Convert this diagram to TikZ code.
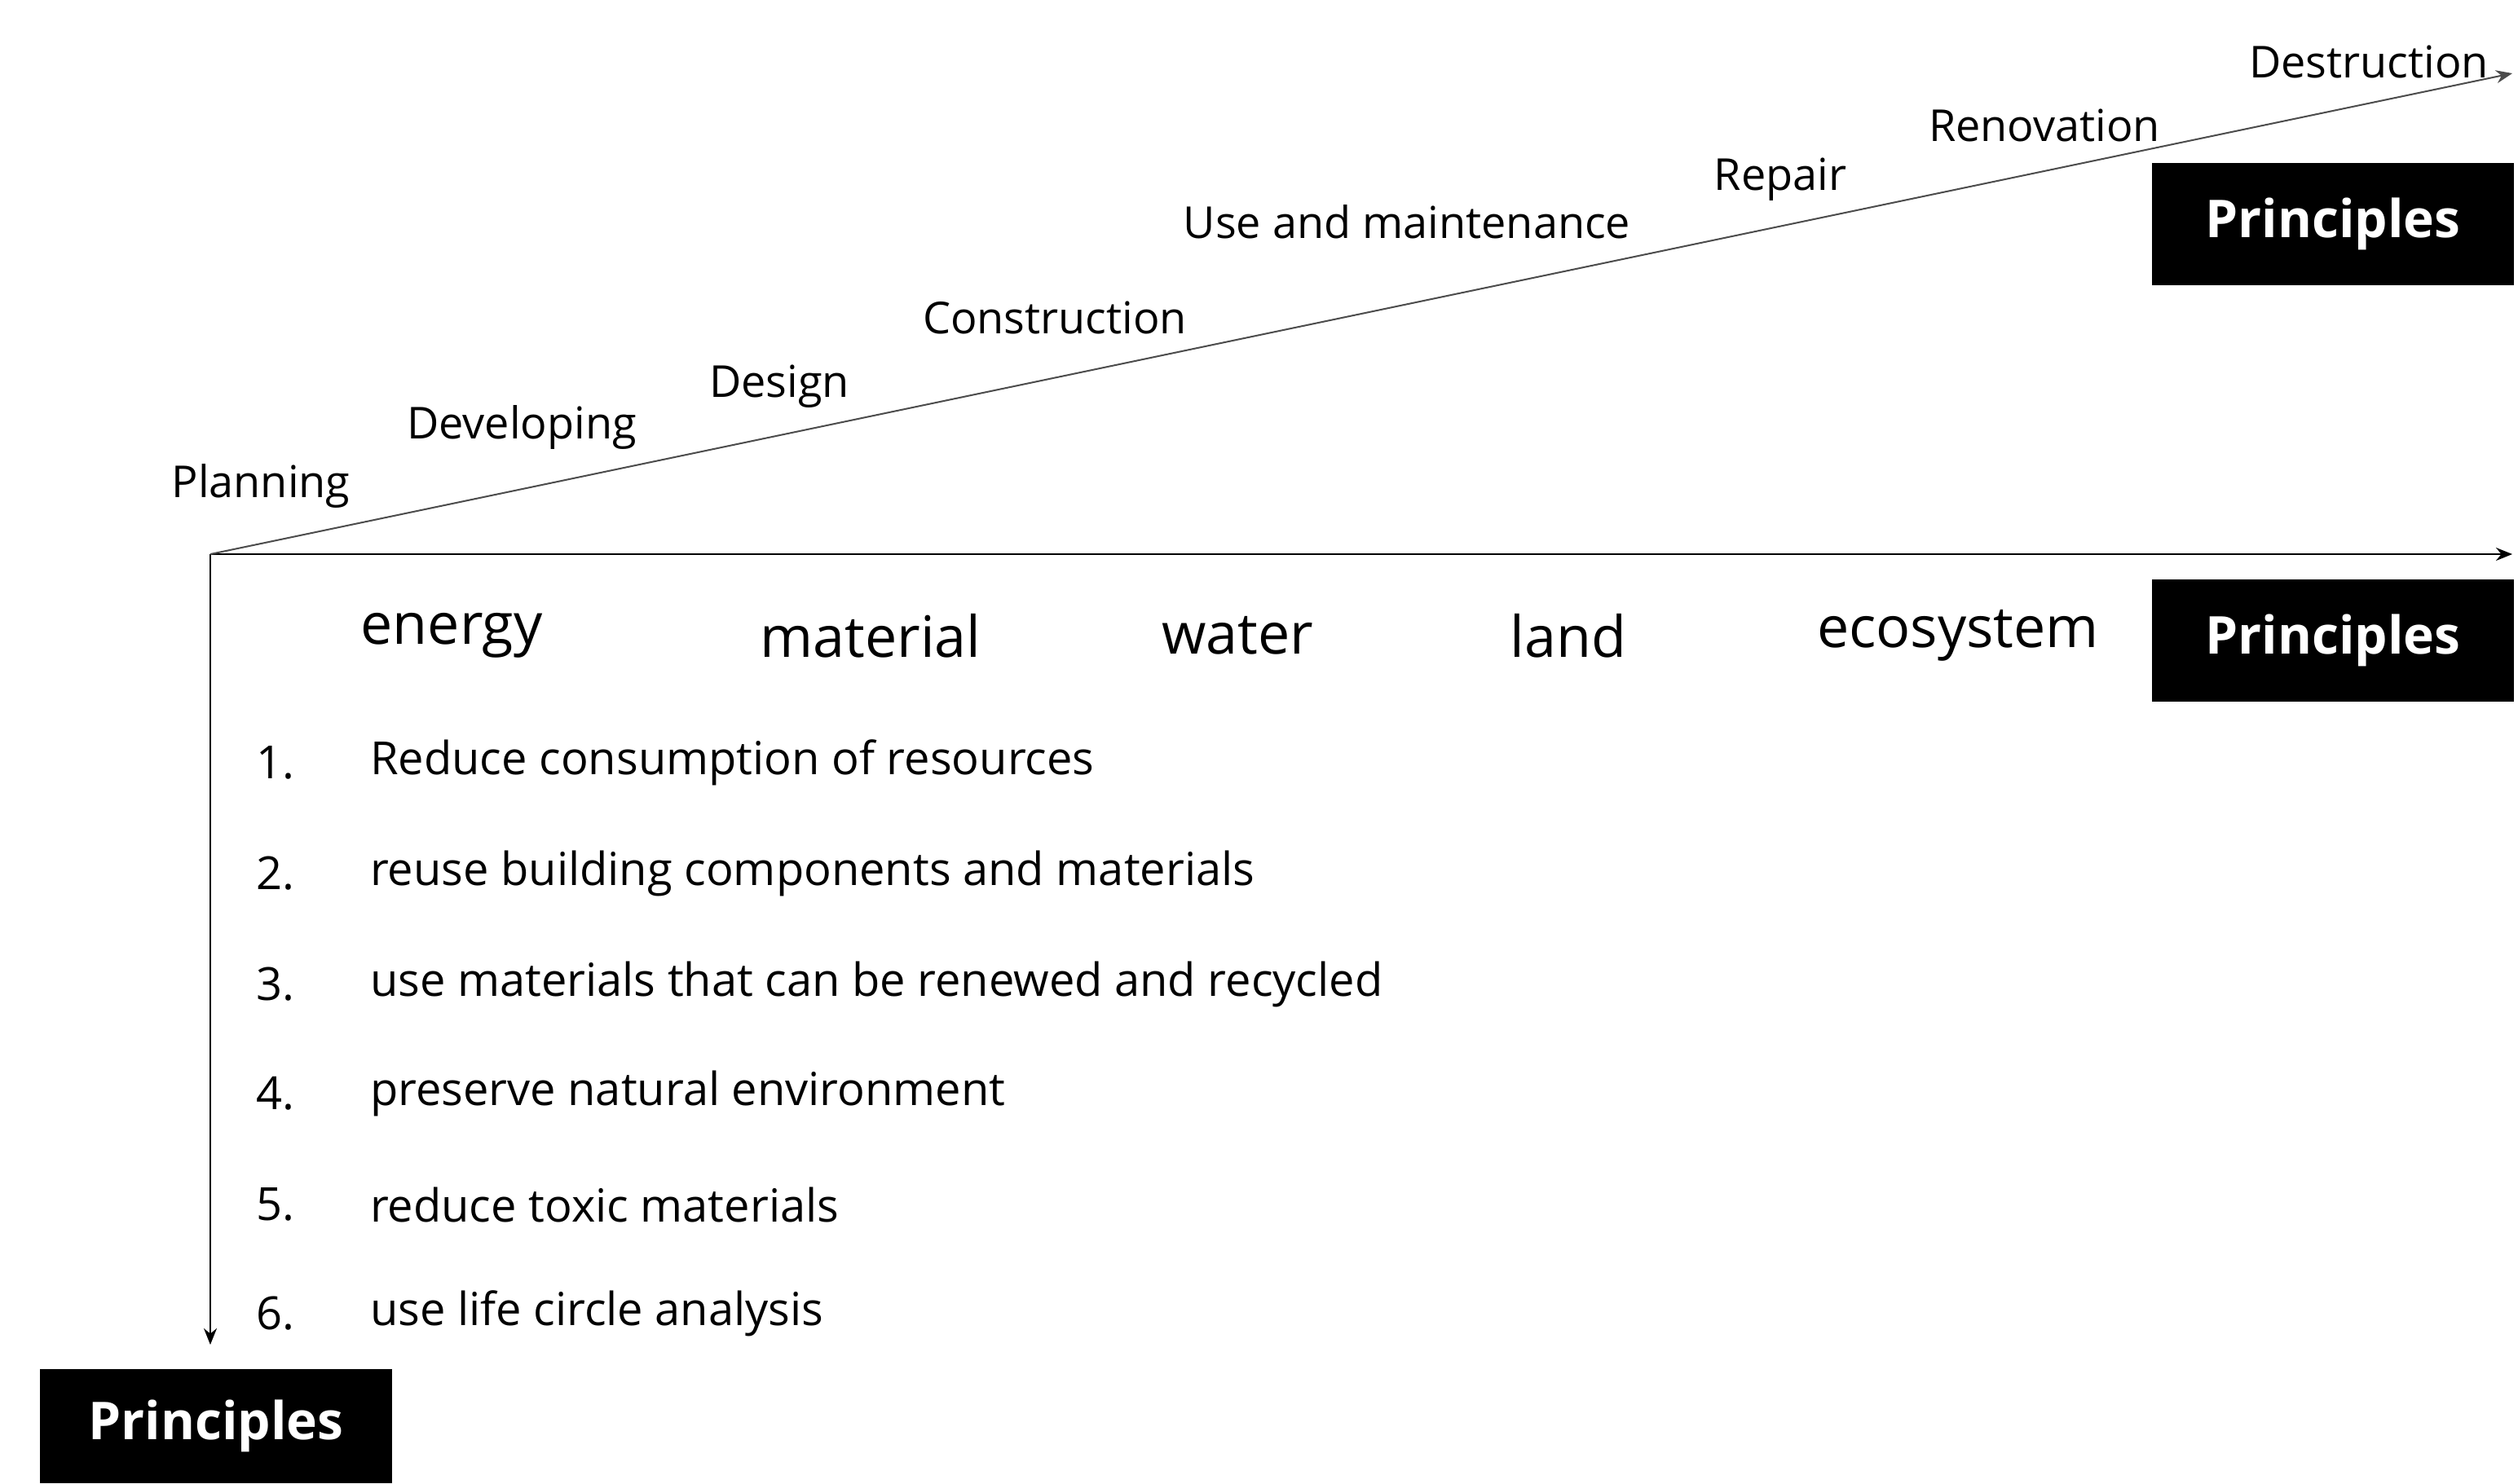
\documentclass[tikz,border=0pt]{standalone}
\usepackage{fontspec}
\usetikzlibrary{arrows.meta}
\setmainfont{Open Sans}
\begin{document}
\begin{tikzpicture}[x=0.5pt,y=-0.5pt,
 stage/.style={font=\fontsize{13.5}{15}\selectfont},
 res/.style={font=\fontsize{17.5}{20}\selectfont},
 item/.style={font=\fontsize{14}{16}\selectfont,anchor=west},
 pbox/.style={fill=black,text=white,font=\bfseries\fontsize{16}{18}\selectfont,minimum width=111pt,minimum height=37.5pt,inner sep=0pt},
 ax/.style={-{Stealth[length=5pt,width=4pt]},line width=0.5pt}]
\useasboundingbox (0,0) rectangle (1544.5,910);
\coordinate (o) at (129,340);
\coordinate (xe) at (1541,340);
\coordinate (ye) at (129,825);
\coordinate (de) at (1541,45);
\draw[ax] (o) -- (xe);
\draw[ax] (o) -- (ye);
\draw[ax,draw=black!70] (o) -- (de);
\node[pbox] (p1) at (1431,137.5) {Principles};
\node[pbox] (p2) at (1431,393) {Principles};
\node[pbox,minimum width=108pt,minimum height=35pt] (p3) at (132.5,875) {Principles};
\node[stage] (s1) at (160,298) {Planning};
\node[stage] (s2) at (320,262) {Developing};
\node[stage] (s3) at (478,237) {Design};
\node[stage] (s4) at (647,195) {Construction};
\node[stage] (s5) at (863,136) {Use and maintenance};
\node[stage] (s6) at (1092,110) {Repair};
\node[stage] (s7) at (1254,77) {Renovation};
\node[stage] (s8) at (1453,38) {Destruction};
\node[res] (r1) at (277,390) {energy};
\node[res] (r2) at (534,390) {material};
\node[res] (r3) at (759,390) {water};
\node[res] (r4) at (962,390) {land};
\node[res] (r5) at (1201,390) {ecosystem};
\foreach \n/\t/\y in {1/Reduce consumption of resources/468,2/reuse building components and materials/536,3/use materials that can be renewed and recycled/604,4/preserve natural environment/671,5/reduce toxic materials/739,6/use life circle analysis/806}{
 \node[item] (n\n) at (150,\y) {\n.};
 \node[item] (t\n) at (220,\y) {\t};
}
\end{tikzpicture}
\end{document}
